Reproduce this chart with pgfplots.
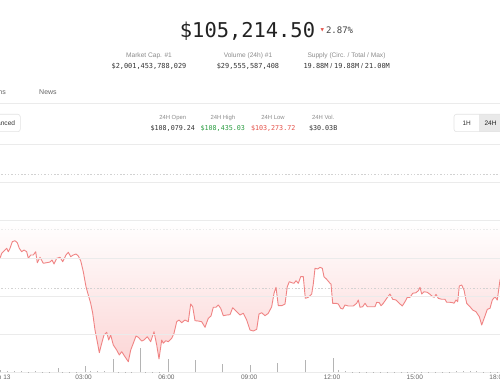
\documentclass[border=0pt]{standalone}
\usepackage{fontspec}
\setmainfont{Liberation Sans}
\newfontfamily\mono{DejaVu Sans Mono}
\newfontfamily\dejavu{DejaVu Sans}
\usepackage{pgfplots}
\usepackage{pgfplotstable}
\pgfplotsset{compat=1.18}

\definecolor{txtdark}{HTML}{222222}
\definecolor{txtmid}{HTML}{444444}
\definecolor{txtval}{HTML}{333333}
\definecolor{txtlab}{HTML}{8C8C8C}
\definecolor{tabtxt}{HTML}{666666}
\definecolor{upgreen}{HTML}{2E9E44}
\definecolor{downred}{HTML}{E5534B}
\definecolor{linered}{HTML}{F08484}
\definecolor{fillpink}{HTML}{FCD6D6}
\definecolor{gridc}{HTML}{EBEBEB}
\definecolor{dotc}{HTML}{D2D2D2}
\definecolor{volc}{HTML}{B4B4B4}
\definecolor{btnborder}{HTML}{E3E3E3}
\definecolor{btnfill}{HTML}{E9E9E9}

\pgfplotstableread{
t p
-0.029 107684
0.033 107897
0.152 108038
0.214 108110
0.272 107965
0.333 108110
0.417 108392
0.514 108435
0.598 108349
0.670 108110
0.757 107965
0.841 108038
0.938 107965
0.996 107684
1.083 107825
1.178 107825
1.264 107965
1.322 107496
1.420 107727
1.540 107471
1.663 107496
1.783 107526
1.855 107611
1.928 107441
2.025 107684
2.145 107727
2.243 107539
2.362 107825
2.446 107940
2.533 107752
2.627 107825
2.725 107867
2.808 107782
2.895 107582
2.989 107112
3.087 106472
3.170 106118
3.257 105764
3.330 105338
3.413 104625
3.496 104126
3.569 103657
3.656 104058
3.739 104412
3.837 104527
3.909 104199
3.982 104412
4.076 103985
4.199 103772
4.293 103559
4.380 103700
4.500 103486
4.620 103273
4.707 103772
4.801 104058
4.899 104369
4.982 104314
5.105 104156
5.188 104199
5.308 104339
5.431 104126
5.551 104553
5.649 103985
5.732 103388
5.830 104199
5.888 104058
5.975 104169
6.069 104126
6.192 104271
6.275 104484
6.373 104979
6.457 105052
6.554 104937
6.674 105052
6.793 104979
6.880 105734
6.953 105619
7.036 105022
7.156 105009
7.279 104979
7.399 104740
7.518 105124
7.616 105222
7.699 105594
7.797 105594
7.880 105692
7.967 105551
8.062 105235
8.185 105265
8.304 105278
8.402 105577
8.547 105406
8.667 105265
8.786 105338
8.909 105052
9.029 104625
9.149 104583
9.272 104655
9.355 105308
9.453 105363
9.572 105235
9.692 105338
9.815 105619
9.899 106191
9.971 106447
10.054 105662
10.178 105662
10.297 105734
10.380 106472
10.453 106686
10.540 106643
10.623 106617
10.696 106728
10.779 106617
10.866 106899
10.960 106899
11.033 105977
11.141 106020
11.264 106161
11.322 106588
11.384 107257
11.482 107227
11.565 107300
11.649 107257
11.710 106899
11.808 106788
11.928 106617
11.964 106588
12.025 105764
12.145 105764
12.228 105734
12.315 105551
12.388 105521
12.471 105692
12.591 105649
12.772 105649
12.895 105764
12.953 105905
13.014 105594
13.112 105619
13.196 105764
13.279 105619
13.438 105619
13.558 105619
13.620 105807
13.714 105790
13.775 105662
13.859 105764
13.982 105977
14.101 106161
14.199 105935
14.319 105905
14.438 105764
14.547 105649
14.645 105832
14.728 106020
14.826 106020
14.924 106191
15.043 106216
15.127 106302
15.188 106447
15.250 106161
15.333 106259
15.453 106233
15.551 106148
15.649 106046
15.707 106020
15.768 106148
15.851 105977
15.975 105935
16.094 105935
16.156 105807
16.275 105807
16.373 105790
16.420 105764
16.493 105905
16.554 105832
16.612 106502
16.699 106545
16.783 106332
16.880 105764
17.000 105619
17.098 105478
17.217 105406
17.337 105193
17.424 104839
17.543 105222
17.627 105508
17.725 105551
17.808 105905
17.906 106046
17.989 105905
18.087 106758
18.160 106971
}\pricedata

\pgfplotstableread{
t v
0.00 18
0.25 16
0.50 15
0.75 12
1.00 8
1.25 10
1.50 8
1.75 8
2.08 46
2.25 6
2.50 6
2.75 6
3.08 66
3.25 15
3.50 14
3.75 12
4.08 130
4.25 8
4.50 8
4.75 6
5.05 240
5.25 5
5.50 5
5.75 4
6.06 133
7.06 123
8.05 86
9.05 73
10.04 93
11.03 126
12.04 143
12.25 25
12.50 15
12.75 6
13.00 5
13.25 5
13.50 5
13.75 5
14.00 5
14.25 5
14.50 5
14.75 5
15.00 5
15.25 5
15.50 5
15.75 5
16.00 5
16.25 5
16.50 10
16.75 12
17.00 10
17.25 10
17.50 8
17.75 5
18.00 5
}\voldata

\begin{document}
\begin{tikzpicture}
\fill[white] (0,0) rectangle (500bp,383bp);

% price chart
\begin{axis}[
  at={(0bp,10.7bp)}, anchor=south west,
  width=500bp, height=227.6bp, scale only axis,
  xmin=-0.029, xmax=18.087, ymin=102821, ymax=112530,
  axis on top,
  axis line style={draw=none},
  tick style={draw=none},
  scaled y ticks=false,
  ytick={102821,104439,106057,107676,109294,110912,112530},
  yticklabels={},
  ymajorgrids,
  grid style={draw=gridc, line width=0.6bp},
  xtick={0,3,6,9,12,15,18},
  xticklabels={Jun 13,03:00,06:00,09:00,12:00,15:00,18:00},
  xticklabel style={font=\fontsize{6.5bp}{7bp}\selectfont, text=tabtxt, inner sep=2.3bp},
  clip=true]
\addplot[draw=none, fill=none, forget plot, top color=white, bottom color=fillpink] coordinates {(-0.2,109275) (18.3,109275) (18.3,103273) (-0.2,103273)} -- cycle;
\addplot[fill=white, draw=none, forget plot] table[x=t,y=p] {\pricedata} \closedcycle;
\addplot[draw=dotc, line width=0.6bp, dash pattern=on 1.5bp off 1.8bp, forget plot] coordinates {(-0.1,111267) (18.3,111267)};
\addplot[draw=dotc, line width=0.6bp, dash pattern=on 1.5bp off 1.8bp, forget plot] coordinates {(-0.1,106404) (18.3,106404)};
\addplot[draw=gridc, line width=0.5bp, dash pattern=on 1.5bp off 1.8bp, forget plot] coordinates {(-0.1,108921) (18.3,108921)};
\addplot[draw=linered, line width=0.9bp, mark=none, line join=round] table[x=t,y=p] {\pricedata};
\end{axis}

% volume bars
\begin{axis}[
  at={(0bp,10.7bp)}, anchor=south west,
  width=500bp, height=227.6bp, scale only axis,
  xmin=-0.029, xmax=18.087, ymin=0, ymax=2276,
  hide axis, clip=true]
\addplot[ycomb, draw=volc, line width=1bp, mark=none] table[x=t,y=v] {\voldata};
\end{axis}

% header texts (coordinates in px from the top-left corner)
\begin{scope}[x=1bp, y=-1bp, shift={(0bp,383bp)}]
\node[anchor=base, inner sep=0, text=txtdark, font=\mono\fontsize{20.4bp}{24bp}\selectfont] at (247.5,37.3) {\$105,214.50};
\node[anchor=center, inner sep=0, text=downred, font=\dejavu\fontsize{4.5bp}{5bp}\selectfont] at (322.3,30.5) {▼};
\node[anchor=base west, inner sep=0, text=txtmid, font=\mono\fontsize{9bp}{10bp}\selectfont] at (325.8,33.3) {2.87\%};

\node[anchor=base, inner sep=0, text=txtlab, font=\fontsize{6.6bp}{7bp}\selectfont] at (149,57.5) {Market Cap. \#1};
\node[anchor=base, inner sep=0, text=txtval, font=\mono\fontsize{6.9bp}{8bp}\selectfont] at (149,69) {\$2,001,453,788,029};
\node[anchor=base, inner sep=0, text=txtlab, font=\fontsize{6.6bp}{7bp}\selectfont] at (248,57.5) {Volume (24h) \#1};
\node[anchor=base, inner sep=0, text=txtval, font=\mono\fontsize{6.9bp}{8bp}\selectfont] at (248,69) {\$29,555,587,408};
\node[anchor=base, inner sep=0, text=txtlab, font=\fontsize{6.6bp}{7bp}\selectfont] at (346.5,57.5) {Supply (Circ. / Total / Max)};
\node[anchor=base, inner sep=0, text=txtval, font=\fontsize{6.9bp}{8bp}\selectfont] at (346.7,69) {{\mono 19.88M} / {\mono 19.88M} / {\mono 21.00M}};

\node[anchor=base east, inner sep=0, text=tabtxt, font=\fontsize{7bp}{8bp}\selectfont] at (6,95) {Transactions};
\node[anchor=base, inner sep=0, text=tabtxt, font=\fontsize{7bp}{8bp}\selectfont] at (48,95) {News};
\draw[draw=gridc, line width=0.8bp] (-5,103.3) -- (505,103.3);

\draw[draw=btnborder, line width=0.6bp, rounded corners=2.5bp] (-20,114.3) rectangle (20.3,131.7);
\node[anchor=base east, inner sep=0, text=txtval, font=\fontsize{6.6bp}{7bp}\selectfont] at (15.3,125.2) {Advanced};

\node[anchor=base, inner sep=0, text=txtlab, font=\fontsize{5.9bp}{7bp}\selectfont] at (172.7,119.7) {24H Open};
\node[anchor=base, inner sep=0, text=txtval, font=\mono\fontsize{6.7bp}{8bp}\selectfont] at (172.8,130.7) {\$108,079.24};
\node[anchor=base, inner sep=0, text=txtlab, font=\fontsize{5.9bp}{7bp}\selectfont] at (222.8,119.7) {24H High};
\node[anchor=base, inner sep=0, text=upgreen, font=\mono\fontsize{6.7bp}{8bp}\selectfont] at (222.8,130.7) {\$108,435.03};
\node[anchor=base, inner sep=0, text=txtlab, font=\fontsize{5.9bp}{7bp}\selectfont] at (273,119.7) {24H Low};
\node[anchor=base, inner sep=0, text=downred, font=\mono\fontsize{6.7bp}{8bp}\selectfont] at (273.2,130.7) {\$103,273.72};
\node[anchor=base, inner sep=0, text=txtlab, font=\fontsize{5.9bp}{7bp}\selectfont] at (323.2,119.7) {24H Vol.};
\node[anchor=base, inner sep=0, text=txtval, font=\mono\fontsize{6.7bp}{8bp}\selectfont] at (323.2,130.7) {\$30.03B};

\fill[btnfill] (479,114.3) rectangle (520,131.7);
\draw[draw=btnborder, line width=0.6bp, rounded corners=2.5bp] (454,114.3) rectangle (520,131.7);
\node[anchor=base, inner sep=0, text=txtval, font=\fontsize{6.5bp}{7bp}\selectfont] at (466.7,125.3) {1H};
\node[anchor=base, inner sep=0, text=txtdark, font=\fontsize{6.5bp}{7bp}\selectfont] at (490.5,125.3) {24H};
\end{scope}
\pgfresetboundingbox
\path[use as bounding box] (0,0) rectangle (500bp,383bp);
\end{tikzpicture}
\end{document}
